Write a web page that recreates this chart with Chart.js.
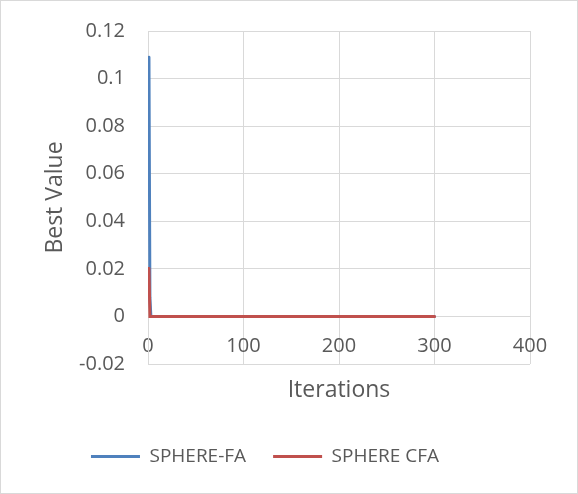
<!DOCTYPE html>
<html>
<head>
<meta charset="utf-8">
<script src="https://cdn.jsdelivr.net/npm/chart.js@4/dist/chart.umd.min.js"></script>
<style>
  html, body { margin: 0; padding: 0; background: #fff; }
  #wrap { width: 578px; height: 494px; position: relative; }
</style>
</head>
<body>
<div id="wrap"><canvas id="chart"></canvas></div>
<script>
// values
const faIterations = [1, 2, 3, 300];
const faValues = [0.109, 0.008, 0, 0];
const cfaIterations = [1, 2, 300];
const cfaValues = [0.0202, 0, 0];

const xTickValues = [0, 100, 200, 300, 400];
const yTickValues = [-0.02, 0, 0.02, 0.04, 0.06, 0.08, 0.1, 0.12];

const seriesNames = ['SPHERE-FA', 'SPHERE CFA'];
const seriesColors = ['#4f81bd', '#c0504d'];

const textColor = '#595959';
const gridColor = '#d9d9d9';
const fontFamily = '"Open Sans", sans-serif';

const toPoints = (xs, ys) => xs.map((x, i) => ({ x: x, y: ys[i] }));

// thin grey frame round the whole chart, like the Excel chart area
const frame = {
    id: 'frame',
    afterDraw(chart) {
        const ctx = chart.ctx;
        ctx.save();
        ctx.strokeStyle = gridColor;
        ctx.lineWidth = 1;
        ctx.strokeRect(0.5, 0.5, chart.width - 1, chart.height - 1);
        ctx.restore();
    }
};

const ctx = document.getElementById('chart').getContext('2d');
new Chart(ctx, {
    type: 'line',
    data: {
        datasets: [{
            label: seriesNames[0],
            data: toPoints(faIterations, faValues),
            borderColor: seriesColors[0],
            backgroundColor: seriesColors[0],
            borderWidth: 3,
            pointRadius: 0,
            tension: 0,
            borderCapStyle: 'round',
            order: 1
        }, {
            label: seriesNames[1],
            data: toPoints(cfaIterations, cfaValues),
            borderColor: seriesColors[1],
            backgroundColor: seriesColors[1],
            borderWidth: 3,
            pointRadius: 0,
            tension: 0,
            borderCapStyle: 'round',
            order: 0
        }]
    },
    options: {
        responsive: true,
        maintainAspectRatio: false,
        animation: false,
        layout: {
            padding: { left: 0, right: 48, top: 20, bottom: 18 }
        },
        plugins: {
            legend: {
                position: 'bottom',
                labels: {
                    color: textColor,
                    font: { family: fontFamily, size: 19 },
                    usePointStyle: true,
                    pointStyle: 'line',
                    pointStyleWidth: 49,
                    padding: 27,
                    sort: (a, b) => a.datasetIndex - b.datasetIndex
                }
            },
            tooltip: { enabled: false }
        },
        scales: {
            x: {
                type: 'linear',
                position: { y: 0 },
                min: 0,
                max: 400,
                afterBuildTicks: scale => {
                    scale.ticks = xTickValues.map(v => ({ value: v }));
                },
                ticks: {
                    color: textColor,
                    font: { family: fontFamily, size: 20 },
                    padding: 18,
                    maxRotation: 0,
                    callback: v => String(v)
                },
                grid: { color: gridColor, drawTicks: false },
                border: { color: gridColor },
                title: {
                    display: true,
                    text: 'Iterations',
                    color: textColor,
                    font: { family: fontFamily, size: 23 },
                    padding: { top: 0, bottom: 0 }
                }
            },
            x2: {
                type: 'linear',
                position: 'bottom',
                grid: { display: false },
                border: { display: false },
                ticks: { display: false },
                afterFit: scale => { scale.height = 56; }
            },
            y: {
                min: -0.02,
                max: 0.12,
                afterBuildTicks: scale => {
                    scale.ticks = yTickValues.map(v => ({ value: v }));
                },
                afterFit: scale => { scale.width = 148; },
                ticks: {
                    color: textColor,
                    font: { family: fontFamily, size: 20 },
                    padding: 19,
                    callback: v => String(Number(v.toFixed(2)))
                },
                grid: {
                    color: gridColor,
                    drawTicks: true,
                    tickLength: 4,
                    tickColor: 'rgba(0,0,0,0)'
                },
                border: { color: gridColor },
                title: {
                    display: true,
                    text: 'Best Value',
                    color: textColor,
                    font: { family: fontFamily, size: 23 },
                    padding: { top: 42, bottom: 0 }
                }
            }
        }
    },
    plugins: [frame]
});
</script>
</body>
</html>
